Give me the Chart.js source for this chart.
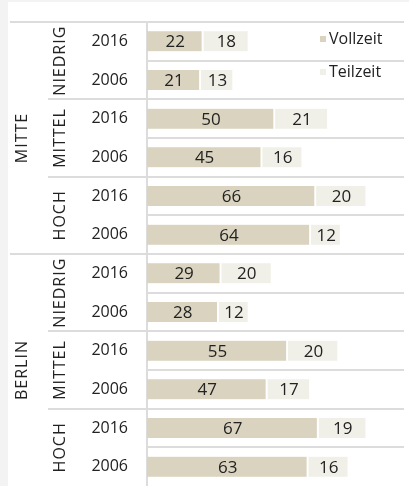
<!DOCTYPE html>
<html>
<head>
<meta charset="utf-8">
<script src="https://cdn.jsdelivr.net/npm/chart.js@4/dist/chart.umd.min.js"></script>
<style>
    body { margin: 0; background: #f3f3f3; }
    canvas { display: block; }
</style>
</head>
<body>
<canvas id="chart" width="409" height="486"></canvas>
<script>
// rows top to bottom
var years = ['2016', '2006', '2016', '2006', '2016', '2006', '2016', '2006', '2016', '2006', '2016', '2006'];
var levels = ['NIEDRIG', 'MITTEL', 'HOCH', 'NIEDRIG', 'MITTEL', 'HOCH'];
var areas = ['MITTE', 'BERLIN'];
var vollzeit = [22, 21, 50, 45, 66, 64, 29, 28, 55, 47, 67, 63];
var teilzeit = [18, 13, 21, 16, 20, 12, 20, 12, 20, 17, 19, 16];

var vollColor = '#d9d3bf';
var teilColor = '#f1f0e8';
var lineColor = '#dcdcdc';

// white panel, separator lines, group labels, values, legend
var decoPlugin = {
    id: 'deco',
    beforeDraw: function (chart) {
        var ctx = chart.ctx;
        ctx.save();
        ctx.fillStyle = '#ffffff';
        ctx.fillRect(8, 2, chart.width - 8, chart.height - 2);
        ctx.restore();
    },
    afterDraw: function (chart) {
        var ctx = chart.ctx;
        var area = chart.chartArea;
        var step = (area.bottom - area.top) / years.length;
        ctx.save();
        ctx.strokeStyle = lineColor;
        ctx.lineWidth = 2;
        for (var i = 0; i < years.length; i++) {
            var ly = Math.round(area.top + step * i);
            var x0 = 148;
            if (i % 6 === 0) x0 = 10;
            else if (i % 2 === 0) x0 = 48;
            ctx.beginPath();
            ctx.moveTo(x0, ly);
            ctx.lineTo(404, ly);
            ctx.stroke();
        }
        ctx.restore();
    },
    afterDatasetsDraw: function (chart) {
        var ctx = chart.ctx;
        var area = chart.chartArea;
        var step = (area.bottom - area.top) / years.length;
        ctx.save();
        ctx.fillStyle = '#222';
        ctx.textAlign = 'center';
        ctx.textBaseline = 'middle';
        // values inside bars
        ctx.font = '17px "Open Sans"';
        chart.data.datasets.forEach(function (ds, di) {
            var meta = chart.getDatasetMeta(di);
            meta.data.forEach(function (bar, i) {
                var left = Math.min(bar.x, bar.base);
                var right = Math.max(bar.x, bar.base);
                ctx.fillText(String(ds.data[i]), (left + right) / 2, bar.y + 1);
            });
        });
        // rotated group labels
        ctx.font = '16px "Open Sans"';
        ctx.letterSpacing = '1px';
        levels.forEach(function (lab, i) {
            var cy = area.top + step * (i * 2 + 1);
            ctx.save();
            ctx.translate(60, cy);
            ctx.rotate(-Math.PI / 2);
            ctx.fillText(lab, 0, 0);
            ctx.restore();
        });
        areas.forEach(function (lab, i) {
            var cy = area.top + step * (i * 6 + 3);
            ctx.save();
            ctx.translate(22, cy);
            ctx.rotate(-Math.PI / 2);
            ctx.fillText(lab, 0, 0);
            ctx.restore();
        });
        ctx.letterSpacing = '0px';
        // legend
        ctx.textAlign = 'left';
        ctx.font = '16px "Open Sans"';
        chart.data.datasets.forEach(function (ds, di) {
            var ly = 39 + di * 33;
            ctx.fillStyle = ds.backgroundColor;
            ctx.fillRect(320, ly - 3, 6, 6);
            ctx.fillStyle = '#222';
            ctx.fillText(ds.label, 329, ly);
        });
        ctx.restore();
    }
};

new Chart(document.getElementById('chart'), {
    type: 'bar',
    data: {
        labels: years,
        datasets: [{
            label: 'Vollzeit',
            data: vollzeit,
            backgroundColor: vollColor,
            borderColor: '#ffffff',
            borderWidth: { top: 0, left: 0, bottom: 0, right: 2 },
            borderSkipped: false,
            barThickness: 20
        }, {
            label: 'Teilzeit',
            data: teilzeit,
            backgroundColor: teilColor,
            borderColor: '#ffffff',
            borderWidth: { top: 0, left: 0, bottom: 0, right: 2 },
            borderSkipped: false,
            barThickness: 20
        }]
    },
    options: {
        indexAxis: 'y',
        responsive: false,
        animation: false,
        layout: { padding: { top: 22, right: 6, bottom: 0, left: 8 } },
        plugins: {
            legend: { display: false },
            tooltip: { enabled: false }
        },
        scales: {
            x: {
                stacked: true,
                display: false,
                min: 0,
                max: 100
            },
            y: {
                stacked: true,
                afterFit: function (scale) {
                    scale.width = 139;
                    // no extra room above/below for the tick labels
                    scale.paddingTop = 0;
                    scale.paddingBottom = 0;
                },
                grid: { display: false, drawTicks: false },
                border: { display: true, color: lineColor, width: 2 },
                ticks: {
                    padding: 19,
                    color: '#222',
                    font: { family: 'Open Sans', size: 16 }
                }
            }
        }
    },
    plugins: [decoPlugin]
});
</script>
</body>
</html>
